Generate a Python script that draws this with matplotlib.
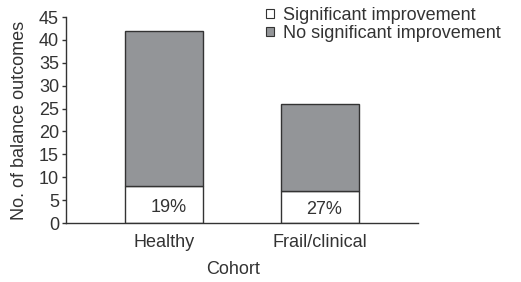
import matplotlib.pyplot as plt
from matplotlib.patches import Patch

# data
cohorts = ['Healthy', 'Frail/clinical']
significant = [8, 7]
no_significant = [34, 19]
pct_labels = ['19%', '27%']

plt.rcParams['font.family'] = ['Liberation Sans', 'DejaVu Sans']
dark = '#333333'
grey = '#939598'
fs = 13

fig = plt.figure(figsize=(5.21, 2.82), dpi=100)
ax = fig.add_axes([66 / 521, 59 / 282, 352 / 521, 206 / 282])

x = list(range(len(cohorts)))
ax.bar(x, significant, width=0.5, color='white', edgecolor=dark, linewidth=1)
ax.bar(x, no_significant, width=0.5, bottom=significant, color=grey, edgecolor=dark, linewidth=1)

for xi, s, lab in zip(x, significant, pct_labels):
    ax.text(xi + 0.03, s / 2 - 0.6, lab, ha='center', va='center', fontsize=fs, color=dark)

ax.set_xlim(-0.63, 1.63)
ax.set_ylim(0, 45)
ax.set_yticks(range(0, 46, 5))
ax.set_xticks(x)
ax.set_xticklabels(cohorts)
ax.tick_params(axis='x', length=0, pad=8, labelsize=fs, labelcolor=dark)
ax.tick_params(axis='y', length=3, width=1, color=dark, pad=2, labelsize=fs, labelcolor=dark)

for side in ['top', 'right']:
    ax.spines[side].set_visible(False)
for side in ['left', 'bottom']:
    ax.spines[side].set_color(dark)
    ax.spines[side].set_linewidth(1)

ax.set_ylabel('No. of balance outcomes', fontsize=fs, color=dark)
ax.yaxis.set_label_coords(-38 / 352, 0.5)
ax.set_xlabel('Cohort', fontsize=fs, color=dark)
ax.xaxis.set_label_coords(0.475, -0.185)

handles = [Patch(facecolor='white', edgecolor=dark, linewidth=0.8),
           Patch(facecolor=grey, edgecolor=dark, linewidth=0.8)]
fig.legend(handles, ['Significant improvement', 'No significant improvement'],
           loc='upper left', bbox_to_anchor=(266 / 521, 1 - 7 / 282), frameon=False,
           fontsize=fs, handlelength=0.42, handleheight=0.42, handletextpad=0.5,
           labelspacing=0.05, borderpad=0, borderaxespad=0, labelcolor=dark)

fig.savefig('out.png', dpi=100)
